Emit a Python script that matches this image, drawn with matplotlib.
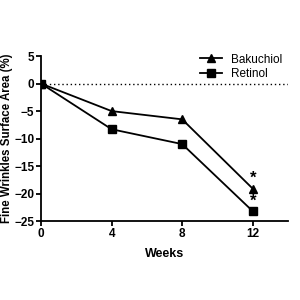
import numpy as np
import matplotlib
matplotlib.use('Agg')
import matplotlib.pyplot as plt

weeks = [0, 4, 8, 12]
bakuchiol = [0, -5.0, -6.5, -19.1]
retinol = [0, -8.3, -11.0, -23.2]

plt.rcParams['font.family'] = 'Liberation Sans'
plt.rcParams['font.weight'] = 'bold'

fig = plt.figure(figsize=(3, 3), dpi=100)
ax = fig.add_axes([0.137, 0.263, 0.823, 0.55])

ax.axhline(0, color='black', linestyle=(0, (1, 2)), linewidth=1)
ax.plot(weeks, bakuchiol, color='black', marker='^', markersize=5.5, linewidth=1.3, label='Bakuchiol')
ax.plot(weeks, retinol, color='black', marker='s', markersize=5.5, linewidth=1.3, label='Retinol')

# significance marks at week 12
ax.text(12, bakuchiol[-1] + 0.5, '*', ha='center', va='bottom', fontsize=12, fontweight='bold')
ax.text(12, retinol[-1] + 0.5, '*', ha='center', va='bottom', fontsize=12, fontweight='bold')

ax.set_xlim(0, 14)
ax.set_ylim(-25, 5)
ax.set_xticks([0, 4, 8, 12])
ax.set_yticks([5, 0, -5, -10, -15, -20, -25])
ax.spines['top'].set_visible(False)
ax.spines['right'].set_visible(False)
ax.spines['left'].set_linewidth(1.3)
ax.spines['bottom'].set_linewidth(1.3)
ax.tick_params(width=1.3, length=3.5, pad=1.5, labelsize=8.5)
ax.set_xlabel('Weeks', fontsize=9, fontweight='bold', labelpad=6)
ax.set_ylabel('Fine Wrinkles Surface Area (%)', fontsize=8.3, fontweight='bold')
ax.yaxis.set_label_coords(-0.113, 0.5)
ax.legend(loc='upper right', bbox_to_anchor=(1.02, 1.08), frameon=False,
          handlelength=1.8, labelspacing=0.2, prop={'weight': 'normal', 'size': 8.5})

fig.savefig('out.png', dpi=100)
